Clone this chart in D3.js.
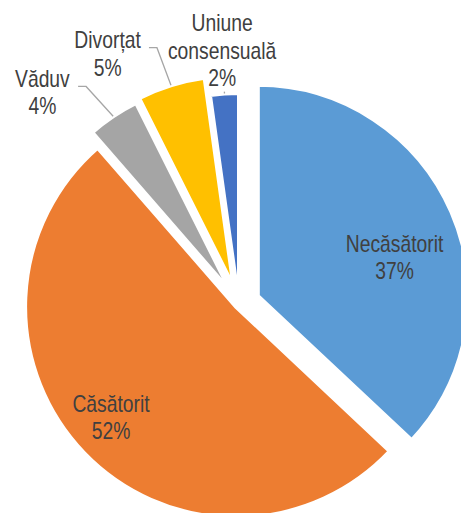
<!DOCTYPE html>
<html>
<head>
<meta charset="utf-8">
<script src="https://cdn.jsdelivr.net/npm/d3@7"></script>
<style>
  body { margin: 0; background: #fff; }
  text { font-family: "Liberation Sans Narrow", "Arial Narrow", "Liberation Sans", Arial, sans-serif; fill: #404040; }
</style>
</head>
<body>
<div id="chart"></div>
<script>
// data
var categories = ["Necăsătorit", "Căsătorit", "Văduv", "Divorțat", "Uniune consensuală"];
var values = [37.0, 51.6, 4.0, 5.2, 2.2];
var percentLabels = ["37%", "52%", "4%", "5%", "2%"];
var nameLines = [["Necăsătorit"], ["Căsătorit"], ["Văduv"], ["Divorțat"], ["Uniune", "consensuală"]];

// layout
var width = 461, height = 513;
var cx = 239, cy = 304;
var radius = 211;
var colors = ["#5B9BD5", "#ED7D31", "#A5A5A5", "#FFC000", "#4472C4"];
var explode = [20.5, 4, 15, 18, 0];
// label block centre, polar from slice centre: [angle in degrees, distance]
var labelPolar = [[74.3, 142], [228.5, 167], [316.6, 274], [331.6, 265], [356.2, 254]];
var leaderType = [null, null, "elbow", "elbow", "tick"];
var fontSize = 23, lineHeight = 27.5, capHeight = 16.5;
var narrow = 0.84; // no narrow font installed, squeeze the regular one

var svg = d3.select("#chart").append("svg")
  .attr("width", width)
  .attr("height", height);

var pie = d3.pie().sort(null).value(function (d) { return d; })
  .startAngle(0).endAngle(2 * Math.PI);
var arcs = pie(values);

var arc = d3.arc().innerRadius(0).outerRadius(radius);

function polar(angleRad, r) {
  return [Math.sin(angleRad) * r, -Math.cos(angleRad) * r];
}

function sliceCentre(d, i) {
  var mid = (d.startAngle + d.endAngle) / 2;
  var o = polar(mid, explode[i]);
  return [cx + o[0], cy + o[1]];
}

// slices
svg.append("g").selectAll("path")
  .data(arcs)
  .enter()
  .append("path")
  .attr("transform", function (d, i) {
    var c = sliceCentre(d, i);
    return "translate(" + c[0] + "," + c[1] + ")";
  })
  .attr("d", arc)
  .attr("fill", function (d, i) { return colors[i]; })
  .attr("stroke", "#fff")
  .attr("stroke-width", 4)
  .attr("stroke-linejoin", "miter");

// labels
var leaderG = svg.append("g");
var labelG = svg.append("g");

arcs.forEach(function (d, i) {
  var c = sliceCentre(d, i);
  var p = polar(labelPolar[i][0] * Math.PI / 180, labelPolar[i][1]);
  var lx = c[0] + p[0], ly = c[1] + p[1];
  var lines = nameLines[i].concat([percentLabels[i]]);
  var firstBase = -(lines.length - 1) * lineHeight / 2 + capHeight / 2;

  var t = labelG.append("text")
    .attr("transform", "translate(" + lx + "," + ly + ") scale(" + narrow + ",1)")
    .attr("text-anchor", "middle")
    .attr("font-size", fontSize);
  lines.forEach(function (s, k) {
    t.append("tspan")
      .attr("x", 0)
      .attr("y", firstBase + k * lineHeight)
      .text(s);
  });

  if (!leaderType[i]) return;
  var mid = (d.startAngle + d.endAngle) / 2;
  var e = polar(mid, radius);
  var end = [c[0] + e[0], c[1] + e[1]];
  var box = t.node().getBBox();
  var right = lx + (box.x + box.width) * narrow;
  var bottom = ly + box.y + box.height;
  var pts;
  if (leaderType[i] == "elbow") {
    var sx = right + 8, sy = ly - 6;
    pts = [[sx, sy], [sx + 8, sy], end];
  } else {
    pts = [[end[0], bottom + 1], end];
  }
  leaderG.append("path")
    .attr("d", d3.line()(pts))
    .attr("fill", "none")
    .attr("stroke", "#A6A6A6")
    .attr("stroke-width", 1.3);
});
</script>
</body>
</html>
